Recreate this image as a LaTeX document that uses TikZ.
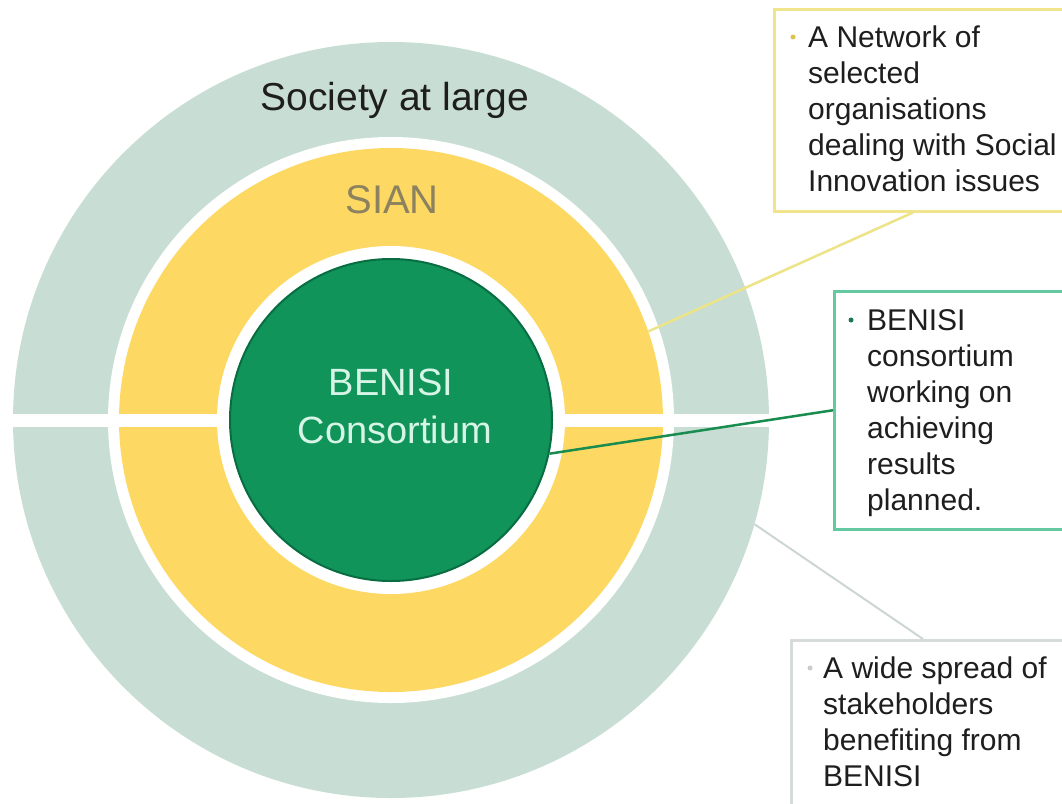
\documentclass[tikz,border=0pt]{standalone}
\usepackage{fontspec}
\setmainfont{Liberation Sans}
\usetikzlibrary{calc}
\definecolor{ringgrey}{RGB}{200,222,212}
\definecolor{ringyellow}{RGB}{253,217,99}
\definecolor{coregreen}{RGB}{17,148,90}
\definecolor{coreedge}{RGB}{8,110,66}
\definecolor{siantext}{RGB}{140,130,95}
\definecolor{coretext}{RGB}{215,245,230}
\definecolor{boxyellow}{RGB}{240,228,140}
\definecolor{boxgreen}{RGB}{100,200,160}
\definecolor{boxgrey}{RGB}{214,220,217}
\definecolor{lineyellow}{RGB}{236,228,135}
\definecolor{linegreen}{RGB}{25,140,80}
\definecolor{linegrey}{RGB}{205,214,210}
\definecolor{bodytext}{RGB}{30,30,30}
\definecolor{dotyellow}{RGB}{220,195,80}
\definecolor{dotgreen}{RGB}{30,120,80}
\definecolor{dotgrey}{RGB}{200,205,203}
\begin{document}
\begin{tikzpicture}[x=1pt,y=-1pt,
  disc/.style={circle,inner sep=0pt,minimum size=#1},
  callout/.style={rectangle,inner sep=0pt,anchor=north west,line width=2.5pt,fill=white},
  calltext/.style={anchor=base west,inner sep=0pt,align=left,font=\fontsize{30}{36}\selectfont,text=bodytext},
  bulletdot/.style={circle,inner sep=0pt,minimum size=5pt,fill=#1},
  bigtext/.style={anchor=base,inner sep=0pt,font=\fontsize{#1}{#1}\selectfont}]
\useasboundingbox (0,0) rectangle (1062,803);
\clip (0,0) rectangle (1062,803);
\fill[white] (0,0) rectangle (1062,803);
% rings
\node[disc=756pt,fill=ringgrey] (society) at (391,420) {};
\node[disc=566pt,fill=white] (gap1) at (391,420) {};
\node[disc=544pt,fill=ringyellow] (sian) at (391,420) {};
\fill[white] (0,414) rectangle (790,427);
\node[disc=348pt,fill=white] (gap2) at (391,420) {};
\node[disc=322pt,fill=coregreen,draw=coreedge,line width=2pt] (benisi) at (391,420) {};
% labels in rings
\node[bigtext=39,text=bodytext] (societylabel) at (395,110) {Society at large};
\node[bigtext=40,text=siantext] (sianlabel) at (392,213) {SIAN};
\node[bigtext=38,text=coretext] (benisilabel1) at (391,395) {BENISI};
\node[bigtext=38,text=coretext] (benisilabel2) at (395,443) {Consortium};
% callout boxes
\node[callout,draw=boxyellow,minimum width=320pt,minimum height=202pt] (box1) at (773,8) {};
\node[callout,draw=boxgreen,minimum width=260pt,minimum height=238pt] (box2) at (833,290) {};
\node[callout,draw=boxgrey,minimum width=300pt,minimum height=200pt] (box3) at (790,639) {};
% connectors
\draw[lineyellow,line width=2.5pt] ($(box1.south west)+(140,0)$) -- (sian.19.6);
\draw[linegreen,line width=2.5pt] (benisi.-12.4) -- (box2.west);
\draw[linegrey,line width=2pt] (society.-16.6) -- ($(box3.north west)+(133,0)$);
% callout texts (anchored at the baseline of the last line)
\node[bulletdot=dotyellow] (b1) at (793,37) {};
\node[calltext] (t1) at (808,191) {A Network of\\selected\\organisations\\dealing with Social\\Innovation issues};
\node[bulletdot=dotgreen] (b2) at (851,320) {};
\node[calltext] (t2) at (867,510) {BENISI\\consortium\\working on\\achieving\\results\\planned.};
\node[bulletdot=dotgrey] (b3) at (810,668) {};
\node[calltext] (t3) at (823,786) {A wide spread of\\stakeholders\\benefiting from\\BENISI};
\end{tikzpicture}
\end{document}
